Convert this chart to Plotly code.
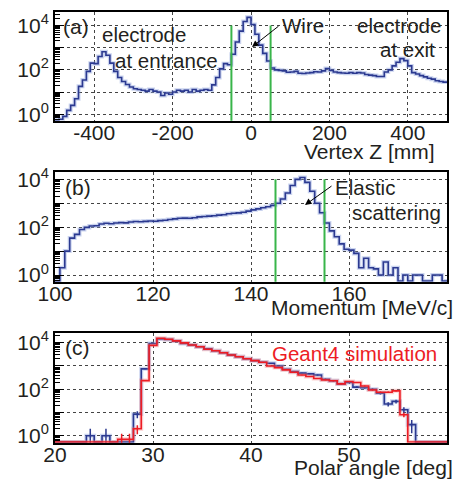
import numpy as np
import plotly.graph_objects as go

# ---------------- data ----------------
# (a) reconstructed vertex Z, 10 mm bins from -500 mm
vertex_lo, vertex_w = -500, 10
vertex_counts = [
    0, 0.6, 0.8, 1.5, 2.5, 5, 18, 35, 85, 200,
    190, 400, 650, 450, 200, 85, 45, 30, 22, 17,
    14, 13, 12, 11, 13, 11, 10, 7, 9, 8,
    10, 12, 11, 12, 10, 13, 11, 12, 13, 12,
    21, 45, 110, 190, 170, 500, 1800, 5500, 15000, 23000,
    11000, 4000, 1300, 550, 250, 120, 100, 95, 90, 78,
    80, 85, 70, 68, 72, 75, 82, 80, 90, 115,
    95, 80, 75, 72, 70, 75, 70, 75, 72, 62,
    58, 55, 50, 50, 80, 100, 150, 220, 320, 260,
    150, 75, 65, 55, 48, 42, 38, 32, 30, 28,
]
vertex_cuts = [-50, 50]

# (b) momentum, 1 MeV/c bins from 100 MeV/c
mom_lo, mom_w = 100, 1
mom_counts = [
    0, 2, 10, 35, 50, 80, 98, 112, 115, 135,
    145, 140, 150, 155, 152, 165, 172, 168, 175, 182,
    178, 188, 195, 210, 222, 235, 240, 235, 248, 270,
    278, 290, 300, 320, 330, 365, 385, 395, 420, 470,
    530, 580, 650, 720, 820, 1000, 1500, 2700, 5500, 10000,
    12000, 7500, 3200, 1000, 400, 150, 70, 40, 20, 12,
    11, 8, 2, 5, 2, 1.8, 1, 3.5, 1, 2,
    0, 1, 0, 1, 1, 0, 0, 1, 1, 0,
]
mom_cuts = [145, 155]

# (c) polar angle, 0.8 deg bins from 20 deg
ang_lo, ang_w = 20, 0.8
ang_data = [
    0, 0, 0, 0, 1, 0, 1, 0, 0, 0,
    8.5, 750, 9300, 14400, 13800, 11700, 9300, 8000, 6700, 5500,
    4500, 3700, 2950, 2500, 2050, 1700, 1450, 1300, 1000, 720,
    575, 490, 457, 407, 270, 230, 170, 195, 123, 117,
    100, 68, 23, 30, 13, 3, 0, 0, 0, 0,
]
ang_sim = [
    0, 0, 0, 0, 0, 0, 0, 0, 0.7, 0.7,
    2, 235, 7700, 15500, 14000, 12000, 9800, 8000, 6700, 5200,
    4500, 3700, 2950, 2500, 2050, 1700, 1450, 1000, 850, 680,
    540, 410, 350, 290, 250, 230, 170, 215, 195, 138,
    93, 74, 74, 85, 8, 0, 0, 0, 0, 0,
]

vertex_ticks = [-400, -200, 0, 200, 400]
vertex_ticktext = ["-400", "-200", "0", "200", "400"]
mom_ticks = [100, 120, 140, 160]
mom_ticktext = ["100", "120", "140", "160"]
ang_ticks = [20, 30, 40, 50]
ang_ticktext = ["20", "30", "40", "50"]
y_ticks = [1, 10, 100, 1000, 10000]
y_ticktext = ["10<sup>0</sup>", "", "10<sup>2</sup>", "", "10<sup>4</sup>"]

# ---------------- style ----------------
W, H = 464, 480
BLUE = "#2b3990"
HALO = "rgba(140,160,220,0.45)"
RED = "#ed1c24"
GREEN = "#39b54a"
TXT = "#231f20"
FONT = "Arial, Liberation Sans, sans-serif"

x_dom = [55 / W, 447 / W]
panels = [  # (top px, bottom px, y log range)
    (12.3, 120.7, [-0.29, 4.59]),
    (171.7, 281.7, [-0.28, 4.32]),
    (332.7, 442.7, [-0.30, 4.43]),
]


def step(lo, w, vals, floor):
    edges = lo + w * np.arange(len(vals) + 1)
    y = [max(v, floor) for v in vals]
    return edges, y + [y[-1]]


fig = go.Figure()


def add_hist(lo, w, vals, ax, color, halo, floor, width=1.6):
    x, y = step(lo, w, vals, floor)
    if halo:
        fig.add_trace(go.Scatter(x=x, y=y, mode="lines", line=dict(color=halo, width=4, shape="hv"),
                                 xaxis="x" + ax, yaxis="y" + ax, hoverinfo="skip"))
    fig.add_trace(go.Scatter(x=x, y=y, mode="lines", line=dict(color=color, width=width, shape="hv"),
                             xaxis="x" + ax, yaxis="y" + ax))


def add_errors(lo, w, vals, ax, color, scale):
    cx = lo + w * (np.arange(len(vals)) + 0.5)
    yy = [v if v > 0 else None for v in vals]
    err = [scale * np.sqrt(v) if v > 0 else 0 for v in vals]
    fig.add_trace(go.Scatter(x=cx, y=yy, mode="markers", marker=dict(size=1, color=color, opacity=0),
                             error_y=dict(type="data", array=err, visible=True, color=color,
                                          thickness=1.5, width=0),
                             xaxis="x" + ax, yaxis="y" + ax))


def add_cut(xs, ax, floor):
    for xc in xs:
        fig.add_trace(go.Scatter(x=[xc, xc], y=[floor * 0.5, 10000], mode="lines",
                                 line=dict(color=GREEN, width=2), xaxis="x" + ax, yaxis="y" + ax))


floors = [10 ** (p[2][0] + 0.03) for p in panels]

add_hist(vertex_lo, vertex_w, vertex_counts, "", BLUE, HALO, floors[0])
add_cut(vertex_cuts, "", floors[0])
add_hist(mom_lo, mom_w, mom_counts, "2", BLUE, HALO, floors[1])
add_cut(mom_cuts, "2", floors[1])
add_hist(ang_lo, ang_w, ang_data, "3", BLUE, HALO, floors[2])
add_errors(ang_lo, ang_w, ang_data, "3", BLUE, 1.0)
add_hist(ang_lo, ang_w, ang_sim, "3", RED, "rgba(240,120,120,0.35)", floors[2])
add_errors(ang_lo, ang_w, ang_sim, "3", RED, 0.6)

minor_vals = [m * 10 ** d for d in range(-1, 5) for m in range(2, 10)]
tickfont = dict(family=FONT, size=21, color=TXT)

layout = dict(
    template="none",
    width=W, height=H, margin=dict(l=0, r=0, t=0, b=0, pad=0, autoexpand=False),
    paper_bgcolor="white", plot_bgcolor="white", showlegend=False,
    font=dict(family=FONT, color=TXT),
)
xinfo = [
    ([-500, 500], vertex_ticks, vertex_ticktext),
    ([100, 180], mom_ticks, mom_ticktext),
    ([20, 60], ang_ticks, ang_ticktext),
]
for i, (top, bot, yr) in enumerate(panels):
    sfx = "" if i == 0 else str(i + 1)
    xr, tv, tt = xinfo[i]
    layout["xaxis" + sfx] = dict(
        domain=x_dom, anchor="y" + sfx, range=xr, tickmode="array", tickvals=tv, ticktext=tt,
        showline=True, mirror=True, linecolor="black", linewidth=2, ticks="",
        showgrid=True, gridcolor="#444", griddash="dot", gridwidth=1, zeroline=False,
        tickfont=tickfont, automargin=False, ticklabelstandoff=-8,
    )
    layout["yaxis" + sfx] = dict(
        domain=[1 - bot / H, 1 - top / H], anchor="x" + sfx, type="log", range=yr,
        tickmode="array", tickvals=y_ticks, ticktext=y_ticktext,
        showline=True, mirror=True, linecolor="black", linewidth=2,
        ticks="inside", ticklen=9, tickcolor="black", tickwidth=1,
        minor=dict(tickmode="array", tickvals=minor_vals, ticks="inside", ticklen=5,
                   tickcolor="black", showgrid=False),
        showgrid=True, gridcolor="#444", griddash="dot", gridwidth=1, zeroline=False,
        tickfont=tickfont, automargin=False,
    )
fig.update_layout(**layout)


def px(x, y):
    return x / W, 1 - y / H


def label(text, x, y, anchor="left", size=21, color=TXT):
    xx, yy = px(x, y)
    fig.add_annotation(x=xx, y=yy, xref="paper", yref="paper", text=text, showarrow=False,
                       xanchor=anchor, yanchor="middle", font=dict(family=FONT, size=size, color=color),
                       borderpad=0)


def arrow(x_tail, y_tail, x_head, y_head):
    xx, yy = px(x_head, y_head)
    fig.add_annotation(x=xx, y=yy, xref="paper", yref="paper", text="", showarrow=True,
                       ax=x_tail - x_head, ay=y_tail - y_head, axref="pixel", ayref="pixel",
                       arrowhead=2, arrowsize=1.3, arrowwidth=1, arrowcolor="black")


# panel (a)
label("(a)", 62, 26)
label("electrode", 101, 35, size=20.5)
label("at entrance", 114, 60, size=20.5)
label("Wire", 281, 25, size=20.5)
arrow(280, 25, 252, 47)
label("electrode", 356, 25, size=20.5)
label("at exit", 379, 50, size=20.5)
label("Vertex Z [mm]", 436, 151, anchor="right")
# panel (b)
label("(b)", 64, 187)
label("Elastic", 334, 187, size=20.5)
label("scattering", 351, 212, size=20.5)
arrow(333, 185, 305, 205)
label("Momentum [MeV/c]", 454, 307, anchor="right")
# panel (c)
label("(c)", 64, 347)
label("Geant4 simulation", 271, 353, size=20.5, color=RED)
label("Polar angle [deg]", 454, 467, anchor="right")

fig.write_html("out.html", config={"displayModeBar": False},
               post_script="document.body.style.margin='0px';"
                           "document.body.style.overflow='hidden';")
